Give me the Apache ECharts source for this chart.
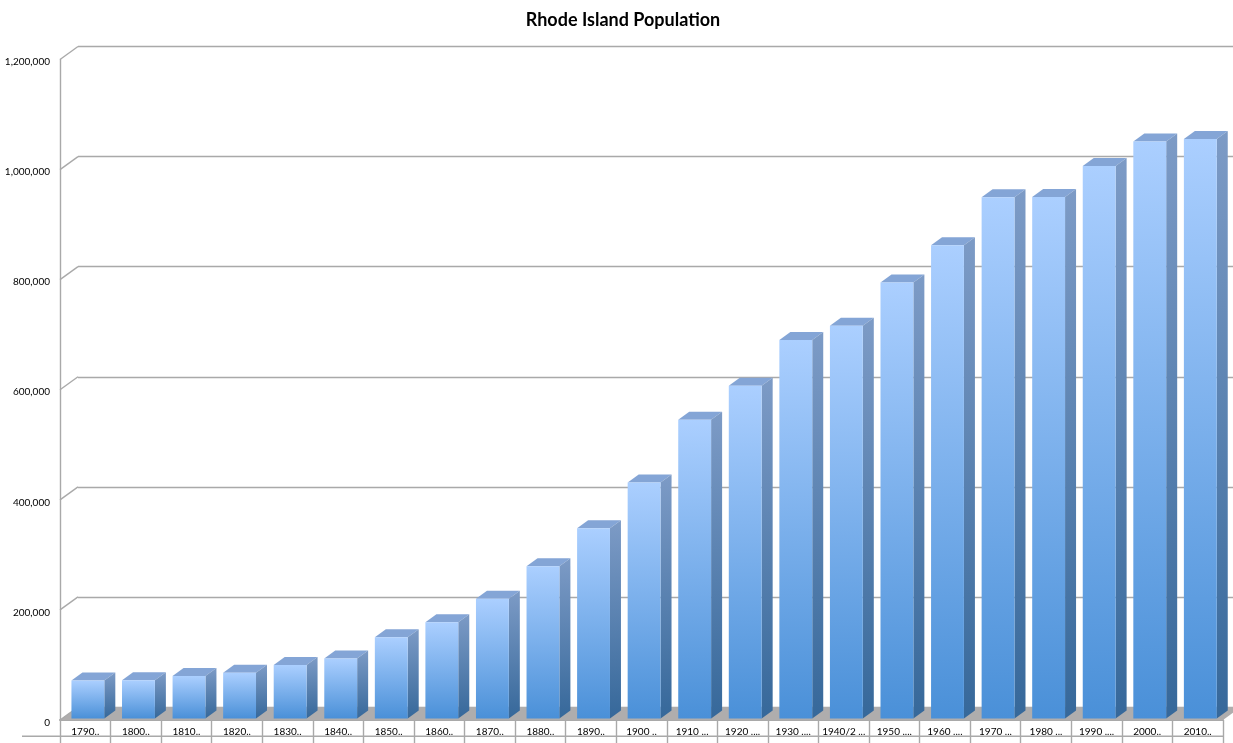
<!DOCTYPE html>
<html><head><meta charset="utf-8">
<style>html,body{margin:0;padding:0;background:#fff}#c{width:1233px;height:743px}</style>
<script src="https://cdn.jsdelivr.net/npm/echarts@6/dist/echarts.min.js"></script>
</head><body><div id="c"></div>
<script>
const categories = ['1790..','1800..','1810..','1820..','1830..','1840..','1850..','1860..','1870..','1880..','1890..','1900 ..','1910 ...','1920 ....','1930 ....','1940/2 ...','1950 ....','1960 ....','1970 ...','1980 ...','1990 ....','2000..','2010..'];
const population = [68825,69122,76931,83059,97199,108830,147545,174620,217353,276531,345506,428556,542610,604397,687497,713346,791896,859488,946725,947154,1003464,1048319,1052567];
const yTicks = [0,200000,400000,600000,800000,1000000,1200000];

const DX = 18, DY = -13;          // wall depth
const BDX = 11, BDY = -8;         // bar depth
const BAR_SHIFT_X = 2.6, BAR_SHIFT_Y = -1.6;
const LINE = '#a9a9a9';
const FONT = 'Lato';

function vgrad(a, b){ return {type:'linear',x:0,y:0,x2:0,y2:1,colorStops:[{offset:0,color:a},{offset:1,color:b}]}; }
function poly(points, fill){ return {type:'polygon',shape:{points},style:{fill,stroke:null}}; }

function renderBar(params, api){
  const w = api.size([1,0])[0]*0.65;
  const top = api.coord([api.value(0), api.value(1)]);
  const base = api.coord([api.value(0), 0]);
  const l = top[0]-w/2+BAR_SHIFT_X, r = l+w;
  const t = top[1]+BAR_SHIFT_Y, b = base[1]+BAR_SHIFT_Y;
  return {type:'group',children:[
    poly([[l,t],[r,t],[r+BDX,t+BDY],[l+BDX,t+BDY]], '#84a5d6'),
    poly([[r,t],[r+BDX,t+BDY],[r+BDX,b+BDY],[r,b]], vgrad('#7d9bc6','#36689a')),
    {type:'rect',shape:{x:l,y:t,width:w,height:b-t},style:{fill:vgrad('#abcfff','#4a90d8')}}
  ]};
}
function renderFloor(params, api){
  const c = params.coordSys;
  const y = api.coord([0,0])[1];
  return {type:'group',children:[
    poly([[c.x,y],[c.x+c.width,y],[c.x+c.width+DX,y+DY],[c.x+DX,y+DY]], '#afadad'),
    {type:'rect',shape:{x:c.x-38,y:y+15.5,width:c.width+38,height:1.4},style:{fill:LINE}}
  ]};
}
function renderDiag(params, api){
  const p = api.coord([0, api.value(0)]);
  const x = params.coordSys.x;
  return {type:'line',shape:{x1:x,y1:p[1],x2:x+DX,y2:p[1]+DY},style:{stroke:LINE,lineWidth:1.4}};
}

const chart = echarts.init(document.getElementById('c'));
chart.setOption({
  animation:false,
  backgroundColor:'#fff',
  title:{text:'Rhode Island Population',left:618,top:6,textAlign:'center',
    textStyle:{fontFamily:FONT,fontWeight:'bold',fontSize:18,color:'#000'}},
  grid:[
    {left:60,width:1163,top:59.5,height:660.5},
    {left:60+DX,width:1163,top:46.5,height:660.5}
  ],
  xAxis:[
    {type:'category',gridIndex:0,data:categories,
      axisLine:{lineStyle:{color:LINE,width:2}},
      axisTick:{show:true,length:23,alignWithLabel:false,lineStyle:{color:LINE,width:1.4}},
      axisLabel:{interval:0,margin:7,fontFamily:FONT,fontSize:10,color:'#000'},
      splitLine:{show:false}},
    {type:'category',gridIndex:1,data:categories,show:false}
  ],
  yAxis:[
    {type:'value',gridIndex:0,min:0,max:1200000,interval:200000,
      axisLine:{show:true,lineStyle:{color:LINE,width:1.4}},
      axisTick:{show:false},splitLine:{show:false},
      axisLabel:{margin:10,verticalAlign:'top',lineHeight:5,fontFamily:FONT,fontSize:10,color:'#000',
        formatter:v=>v.toLocaleString('en-US')}},
    {type:'value',gridIndex:1,min:0,max:1200000,interval:200000,
      axisLine:{show:false},axisTick:{show:false},axisLabel:{show:false},
      splitLine:{show:true,lineStyle:{color:LINE,width:1.4}}}
  ],
  series:[
    {type:'custom',xAxisIndex:0,yAxisIndex:0,z:1,clip:false,silent:true,data:[[0]],renderItem:renderFloor},
    {type:'custom',xAxisIndex:0,yAxisIndex:0,z:1,clip:false,silent:true,data:yTicks.map(v=>[v]),encode:{y:0},renderItem:renderDiag},
    {type:'custom',xAxisIndex:0,yAxisIndex:0,z:3,clip:false,data:population.map((v,i)=>[i,v]),renderItem:renderBar}
  ]
});
</script></body></html>
